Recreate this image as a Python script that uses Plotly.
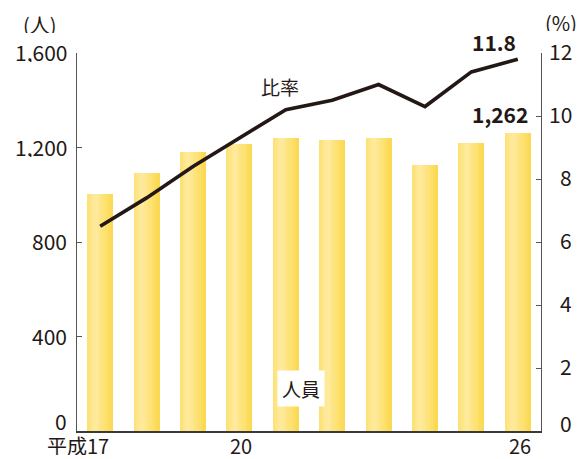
import plotly.graph_objects as go

years = ["17", "18", "19", "20", "21", "22", "23", "24", "25", "26"]
staff = [1005, 1090, 1180, 1215, 1240, 1232, 1242, 1128, 1220, 1262]
ratio = [6.5, 7.4, 8.4, 9.3, 10.2, 10.5, 11.0, 10.3, 11.4, 11.8]
left_ticks = [0, 400, 800, 1200, 1600]
left_tick_text = ["0", "400", "800", "1,200", "1,600"]
right_ticks = [0, 2, 4, 6, 8, 10, 12]
right_tick_text = ["0", "2", "4", "6", "8", "10", "12"]
x_tick_idx = [0, 3, 9]
era = "平成"

FONT = "Noto Sans CJK JP, Noto Sans, sans-serif"
TXT = "#231815"
FS = 21
xs = list(range(len(years)))

fig = go.Figure()

# gradient bars via thin slices
bar_w = 0.56
n = 10
def col(t):
    stops = [(0.0, (252, 224, 112)), (0.3, (254, 235, 160)), (1.0, (252, 216, 76))]
    for (t0, c0), (t1, c1) in zip(stops[:-1], stops[1:]):
        if t <= t1:
            f = (t - t0) / (t1 - t0)
            c = [round(a + (b - a) * f) for a, b in zip(c0, c1)]
            return "rgb(%d,%d,%d)" % tuple(c)
    return "rgb(%d,%d,%d)" % stops[-1][1]

sw = bar_w / n
for i in range(n):
    fig.add_trace(go.Bar(
        x=xs, y=staff, width=sw * 1.02, offset=-bar_w / 2 + i * sw,
        marker=dict(color=col((i + 0.5) / n), line=dict(width=0)),
        showlegend=False, hoverinfo="skip", yaxis="y"))

fig.add_trace(go.Scatter(
    x=xs, y=ratio, mode="lines", line=dict(color=TXT, width=3.6),
    yaxis="y2", showlegend=False))

def f(size=FS):
    return dict(size=size, color=TXT, family=FONT)

ann = [
    dict(text="(人)", xref="paper", yref="paper", x=(40 - 77) / 464, y=(431 - 24) / 378,
         xanchor="center", yanchor="middle", height=18, showarrow=False, font=f(20)),
    dict(text="(%)", xref="paper", yref="paper", x=(561 - 77) / 464, y=(431 - 22) / 378,
         xanchor="center", yanchor="middle", height=18, showarrow=False, font=f(20)),
    dict(text="<b>11.8</b>", xref="x", yref="y2", x=xs[-1], y=ratio[-1], xanchor="right", yanchor="bottom",
         xshift=0, yshift=0, showarrow=False, font=f()),
    dict(text="<b>1,262</b>", xref="x", yref="y", x=xs[-1], y=staff[-1], xanchor="right", yanchor="bottom",
         xshift=12, yshift=2, showarrow=False, font=f()),
    dict(text="比率", xref="x", yref="y2", x=4, y=ratio[4], xanchor="center", yanchor="bottom",
         xshift=-6, yshift=8, showarrow=False, font=f(19)),
    dict(text="人員", xref="paper", yref="paper", x=(301 - 77) / 464, y=(431 - 388) / 378,
         xanchor="center", yanchor="middle", showarrow=False, bgcolor="white", borderpad=4,
         font=f(19)),
]
# y tick labels
for v, t in zip(left_ticks, left_tick_text):
    ann.append(dict(text=t, xref="paper", yref="y", x=0, y=v, xanchor="right", yanchor="middle",
                    xshift=-8, yshift=10 if v == 0 else 1, height=20, showarrow=False, font=f()))
for v, t in zip(right_ticks, right_tick_text):
    ann.append(dict(text=t, xref="paper", yref="y2", x=1, y=v, xanchor="right", yanchor="middle",
                    xshift=33, yshift=8 if v == 0 else 2, height=20, showarrow=False, font=f()))
# x tick labels
for k, i in enumerate(x_tick_idx):
    txt = (era + years[i]) if k == 0 else years[i]
    ann.append(dict(text=txt, xref="x", yref="paper", x=xs[i], y=0,
                    xanchor="right" if k == 0 else "center", yanchor="middle",
                    xshift=11 if k == 0 else 2, yshift=-14, height=20, valign="middle",
                    showarrow=False, font=f(20)))

fig.update_layout(
    width=582, height=459,
    margin=dict(l=77, r=41, t=53, b=28),
    paper_bgcolor="white", plot_bgcolor="white",
    barmode="overlay", bargap=0,
    font=dict(family=FONT, color=TXT, size=FS),
    xaxis=dict(range=[-0.5, len(years) - 0.5], showticklabels=False, automargin=False,
               showline=True, linecolor="#3a3a3a",
               linewidth=2, ticks="", showgrid=False, zeroline=False, fixedrange=True),
    yaxis=dict(range=[0, 1600], tickvals=left_ticks, showticklabels=False, showline=True,
               automargin=False, linecolor="#555", linewidth=1, ticks="inside", ticklen=5,
               tickcolor="#555", showgrid=False, zeroline=False),
    yaxis2=dict(range=[0, 12], tickvals=right_ticks, showticklabels=False,
                overlaying="y", side="right", showline=True,
                automargin=False, linecolor="#555", linewidth=1, ticks="inside", ticklen=5,
                tickcolor="#555", showgrid=False, zeroline=False),
    annotations=ann,
)

fig.write_html("out.html")
